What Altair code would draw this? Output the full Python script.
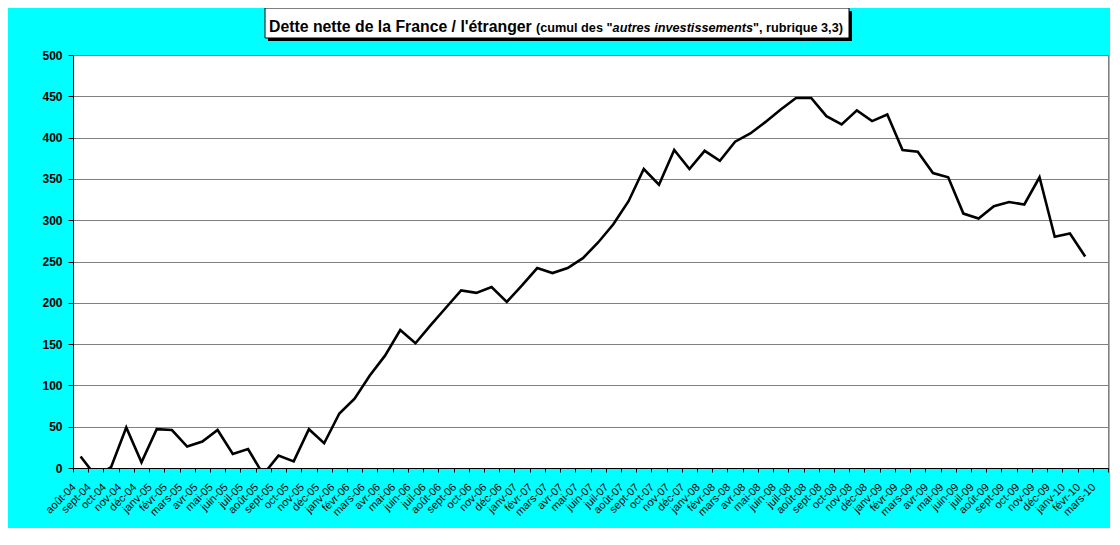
import altair as alt
import pandas as pd

months = [
    "août-04", "sept-04", "oct-04", "nov-04", "déc-04",
    "janv-05", "févr-05", "mars-05", "avr-05", "mai-05", "juin-05",
    "juil-05", "août-05", "sept-05", "oct-05", "nov-05", "déc-05",
    "janv-06", "févr-06", "mars-06", "avr-06", "mai-06", "juin-06",
    "juil-06", "août-06", "sept-06", "oct-06", "nov-06", "déc-06",
    "janv-07", "févr-07", "mars-07", "avr-07", "mai-07", "juin-07",
    "juil-07", "août-07", "sept-07", "oct-07", "nov-07", "déc-07",
    "janv-08", "févr-08", "mars-08", "avr-08", "mai-08", "juin-08",
    "juil-08", "août-08", "sept-08", "oct-08", "nov-08", "déc-08",
    "janv-09", "févr-09", "mars-09", "avr-09", "mai-09", "juin-09",
    "juil-09", "août-09", "sept-09", "oct-09", "nov-09", "déc-09",
    "janv-10", "févr-10", "mars-10",
]

dette = [
    14, -10, 1, 49, 7,
    47, 46, 26, 32, 46, 17,
    23, -8, 15, 8, 47, 30,
    66, 84, 112, 136, 167, 151,
    173, 194, 215, 212, 219, 201,
    221, 242, 236, 242, 254, 273,
    295, 323, 362, 343, 385, 362,
    384, 372, 395, 405, 419, 434,
    448, 448, 426, 416, 433, 420,
    428, 385, 383, 357, 352, 308,
    302, 317, 322, 319, 352, 280,
    284, 256, None,
]

y_ticks = [0, 50, 100, 150, 200, 250, 300, 350, 400, 450, 500]

title_main = "Dette nette de la France / l'étranger"
title_a = '(cumul des "'
title_b = "autres investissements"
title_c = '", rubrique 3,3)'

df = pd.DataFrame({"mois": months, "dette": dette})
one = pd.DataFrame({"k": [0]})

W, H = 1035, 413
FONT = "Liberation Sans"

line = alt.Chart(df).mark_line(color="black", strokeWidth=2.6, clip=True).encode(
    x=alt.X(
        "mois:N",
        sort=months,
        scale=alt.Scale(type="band", domain=months, paddingInner=0, paddingOuter=0),
        axis=alt.Axis(
            title=None,
            labelAngle=-45,
            labelAlign="right",
            labelBaseline="top",
            labelFont=FONT,
            labelFontSize=11,
            labelColor="black",
            labelOverlap=False,
            labelPadding=9,
            labelOffset=-11,
            tickBand="extent",
            tickSize=4,
            tickColor="black",
            domainColor="black",
            grid=False,
        ),
    ),
    y=alt.Y(
        "dette:Q",
        scale=alt.Scale(domain=[0, 500], nice=False),
        axis=alt.Axis(
            title=None,
            values=y_ticks,
            labelFont=FONT,
            labelFontSize=12,
            labelFontWeight="bold",
            labelColor="black",
            labelPadding=6,
            tickSize=5,
            tickColor="black",
            domainColor="black",
            grid=True,
            gridColor="#808080",
            gridWidth=1,
        ),
    ),
)

shadow = alt.Chart(one).mark_rect(fill="black").encode(
    x=alt.value(195), x2=alt.value(779), y=alt.value(-44), y2=alt.value(-14)
)
box = alt.Chart(one).mark_rect(fill="white", stroke="black", strokeWidth=1).encode(
    x=alt.value(192), x2=alt.value(776), y=alt.value(-47), y2=alt.value(-17)
)

def txt(s, x, size, style="normal"):
    return alt.Chart(one).mark_text(
        align="left", baseline="alphabetic", font=FONT, fontSize=size,
        fontWeight="bold", fontStyle=style, color="black",
    ).encode(x=alt.value(x), y=alt.value(-23.5), text=alt.value(s))

t0 = txt(title_main, 196, 15.8)
t1 = txt(title_a, 463, 12.7)
t2 = txt(title_b, 539.6, 12.7, "italic")
t3 = txt(title_c, 680, 12.7)

chart = alt.layer(line, shadow, box, t0, t1, t2, t3).properties(
    width=W,
    height=H,
    background="#00FFFF",
    padding={"left": 65, "top": 47, "right": 2, "bottom": 60},
    autosize=alt.AutoSizeParams(type="none"),
).configure_view(stroke="#808080", strokeWidth=1, fill="white")

chart.save("out.html", embed_options={"renderer": "svg", "actions": False})
